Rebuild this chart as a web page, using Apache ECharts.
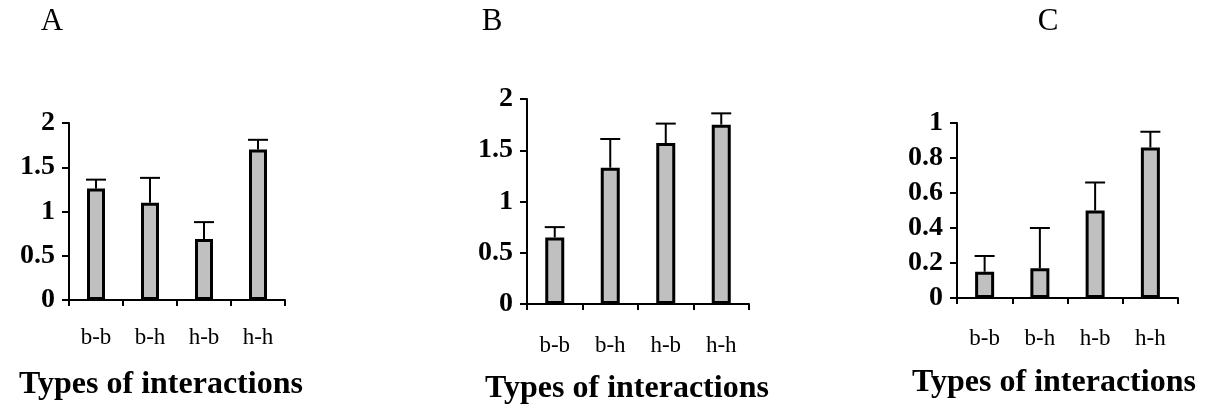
<!DOCTYPE html>
<html>
<head>
<meta charset="utf-8">
<script src="https://cdn.jsdelivr.net/npm/echarts@6/dist/echarts.min.js"></script>
<style>
html,body{margin:0;padding:0;background:#fff;}
#chart{width:1212px;height:407px;}
</style>
</head>
<body>
<div id="chart"></div>
<script>
var categories = ['b-b', 'b-h', 'h-b', 'h-h'];
var panelLabels = ['A', 'B', 'C'];
var xTitle = 'Types of interactions';

var valuesA = [1.26, 1.10, 0.69, 1.70];
var errorsA = [0.10, 0.28, 0.19, 0.11];
var valuesB = [0.65, 1.33, 1.57, 1.75];
var errorsB = [0.10, 0.28, 0.19, 0.11];
var valuesC = [0.15, 0.17, 0.50, 0.86];
var errorsC = [0.09, 0.23, 0.16, 0.09];

var yMaxA = 2, yStepA = 0.5;
var yMaxB = 2, yStepB = 0.5;
var yMaxC = 1, yStepC = 0.2;

var SERIF = '"Liberation Serif", "Times New Roman", serif';

var panels = [
  {vals: valuesA, errs: errorsA, max: yMaxA, step: yStepA,
   grid: {left: 69, top: 123, width: 216, height: 177}, barW: 18, labelGap: 26,
   letter: {x: 52, y: 22}, title: {x: 161, y: 385}},
  {vals: valuesB, errs: errorsB, max: yMaxB, step: yStepB,
   grid: {left: 527, top: 99, width: 222, height: 205}, barW: 19, labelGap: 30,
   letter: {x: 492, y: 22}, title: {x: 627, y: 389}},
  {vals: valuesC, errs: errorsC, max: yMaxC, step: yStepC,
   grid: {left: 957, top: 123, width: 221, height: 175}, barW: 19, labelGap: 29,
   letter: {x: 1048, y: 22}, title: {x: 1054, y: 383}}
];

var grids = [], xAxes = [], yAxes = [], series = [], graphics = [];

panels.forEach(function (p, i) {
  grids.push({left: p.grid.left, top: p.grid.top, width: p.grid.width, height: p.grid.height, containLabel: false});
  xAxes.push({
    type: 'category', gridIndex: i, data: categories, boundaryGap: true,
    axisLine: {lineStyle: {color: '#000', width: 2}},
    axisTick: {show: true, length: 6, alignWithLabel: false, lineStyle: {color: '#000', width: 2}},
    axisLabel: {color: '#000', fontFamily: SERIF, fontSize: 23, margin: p.labelGap},
    splitLine: {show: false}
  });
  yAxes.push({
    type: 'value', gridIndex: i, min: 0, max: p.max, interval: p.step,
    axisLine: {show: true, lineStyle: {color: '#000', width: 2}},
    axisTick: {show: true, length: 7, lineStyle: {color: '#000', width: 2}},
    axisLabel: {color: '#000', fontFamily: SERIF, fontSize: 28, fontWeight: 'bold', margin: 14},
    splitLine: {show: false}
  });
  var errData = p.vals.map(function (v, k) { return [k, v, v + p.errs[k]]; });
  series.push({
    type: 'custom', xAxisIndex: i, yAxisIndex: i, z: 1,
    data: errData,
    encode: {x: 0, y: [1, 2]},
    renderItem: function (params, api) {
      var base = api.coord([api.value(0), api.value(1)]);
      var top = api.coord([api.value(0), api.value(2)]);
      var half = 10;
      return {
        type: 'group',
        children: [
          {type: 'line', shape: {x1: base[0], y1: base[1], x2: top[0], y2: top[1]},
           style: {stroke: '#000', lineWidth: 2}},
          {type: 'line', shape: {x1: top[0] - half, y1: top[1], x2: top[0] + half, y2: top[1]},
           style: {stroke: '#000', lineWidth: 2}}
        ]
      };
    }
  });
  series.push({
    type: 'bar', xAxisIndex: i, yAxisIndex: i, z: 2,
    data: p.vals, barWidth: p.barW,
    itemStyle: {color: '#c0c0c0', borderColor: '#000', borderWidth: 3}
  });
  graphics.push({
    type: 'text', x: p.letter.x, y: p.letter.y,
    style: {text: panelLabels[i], font: 'normal 31px ' + SERIF, fill: '#000',
            align: 'center', verticalAlign: 'middle', textAlign: 'center', textVerticalAlign: 'middle'}
  });
  graphics.push({
    type: 'text', x: p.title.x, y: p.title.y,
    style: {text: xTitle, font: 'bold 32px ' + SERIF, fill: '#000',
            align: 'center', verticalAlign: 'middle', textAlign: 'center', textVerticalAlign: 'middle'}
  });
});

var chart = echarts.init(document.getElementById('chart'), null, {renderer: 'canvas'});
chart.setOption({
  animation: false,
  backgroundColor: '#fff',
  grid: grids,
  xAxis: xAxes,
  yAxis: yAxes,
  series: series,
  graphic: graphics
});
</script>
</body>
</html>
